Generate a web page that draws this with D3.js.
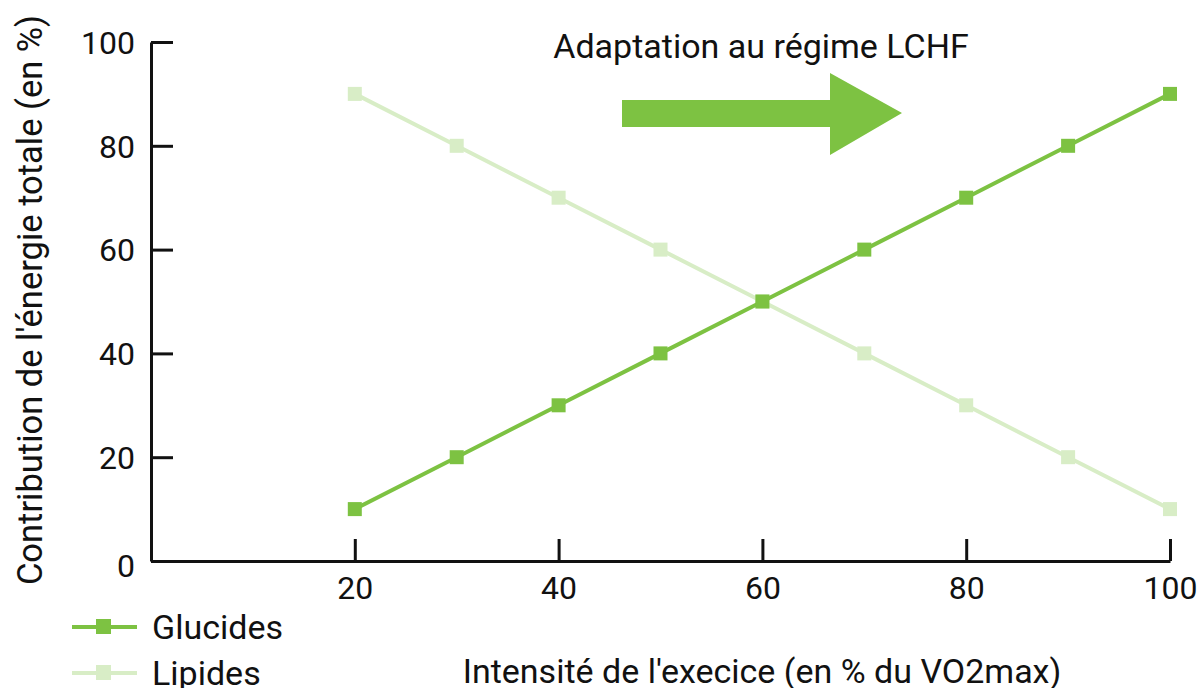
<!DOCTYPE html>
<html><head><meta charset="utf-8">
<script src="https://cdn.jsdelivr.net/npm/d3@7"></script>
<style>body{margin:0;background:#fff}text{font-family:Roboto,"DejaVu Sans",sans-serif;fill:#111}</style>
</head><body><svg id="c" width="1199" height="688"></svg>
<script>
const intensities = [20,30,40,50,60,70,80,90,100];
const glucides = [10,20,30,40,50,60,70,80,90];
const lipides = [90,80,70,60,50,40,30,20,10];
const xTicks = [20,40,60,80,100];
const yTicks = [0,20,40,60,80,100];
const seriesNames = ["Glucides","Lipides"];
const colors = {Glucides:"#7dc242", Lipides:"#d8edc6"};

const svg = d3.select("#c");
const x = d3.scaleLinear().domain([0,100]).range([151,1170]);
const y = d3.scaleLinear().domain([0,100]).range([561,42]);
const fs = 32, fl = 34;

// axes
const xa = svg.append("g").attr("transform","translate(0,561)")
  .call(d3.axisBottom(x).tickValues(xTicks).tickSizeInner(-22).tickSizeOuter(0).tickPadding(0));
const ya = svg.append("g").attr("transform","translate(151,0)")
  .call(d3.axisLeft(y).tickValues(yTicks).tickSizeInner(-22).tickSizeOuter(0).tickPadding(0));
[xa,ya].forEach(a=>{
  a.select(".domain").attr("stroke","#111").attr("stroke-width",3);
  a.selectAll(".tick line").attr("stroke","#111").attr("stroke-width",3);
  a.selectAll(".tick text").attr("font-size",fs).attr("fill","#111");
});
xa.selectAll(".tick text").attr("y",0).attr("dy",null).attr("transform","translate(0,38)");
ya.selectAll(".tick text").attr("x",-16).attr("dy","0.35em");
ya.select(".tick text").attr("transform","translate(0,4)");

// lines
const series = [{name:"Lipides",vals:lipides},{name:"Glucides",vals:glucides}];
const line = d3.line().x((d,i)=>x(intensities[i])).y(d=>y(d));
const ms = 14;
series.forEach(s=>{
  svg.append("path").datum(s.vals).attr("d",line).attr("fill","none")
    .attr("stroke",colors[s.name]).attr("stroke-width",4);
  svg.selectAll(null).data(s.vals).enter().append("rect")
    .attr("x",(d,i)=>x(intensities[i])-ms/2).attr("y",d=>y(d)-ms/2)
    .attr("width",ms).attr("height",ms).attr("fill",colors[s.name]);
});

// legend
seriesNames.forEach((n,i)=>{
  const cy = 627 + i*46;
  const g = svg.append("g");
  g.append("line").attr("x1",72).attr("x2",137).attr("y1",cy).attr("y2",cy)
    .attr("stroke",colors[n]).attr("stroke-width",4);
  g.append("rect").attr("x",96).attr("y",cy-8).attr("width",15).attr("height",15).attr("fill",colors[n]);
  g.append("text").attr("x",152).attr("y",cy+12).attr("font-size",fl).text(n);
});

// axis titles
svg.append("text").attr("x",762).attr("y",683).attr("text-anchor","middle").attr("font-size",fl)
  .text("Intensité de l'execice (en % du VO2max)");
svg.append("text").attr("transform","translate(42,300) rotate(-90)").attr("text-anchor","middle").attr("font-size",34.5)
  .text("Contribution de l'énergie totale (en %)");

// annotation
svg.append("text").attr("x",761).attr("y",58).attr("text-anchor","middle").attr("font-size",fl)
  .text("Adaptation au régime LCHF");
svg.append("path").attr("fill","#7dc242")
  .attr("d","M622,100 L830,100 L830,73 L902,113 L830,155 L830,127 L622,127 Z");
</script></body></html>
